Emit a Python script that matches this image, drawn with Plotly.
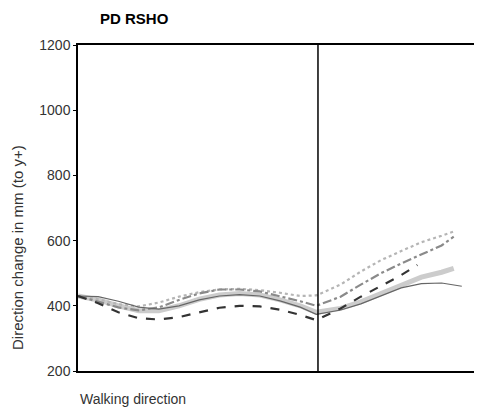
import plotly.graph_objects as go

# Gait-cycle position (% of walking direction)
x_pos = [0, 5, 10, 15, 20, 25, 30, 35, 40, 45, 50, 55, 59, 65, 70, 75, 80, 85, 90, 93]
x_pos_e = [0, 5, 10, 15, 20, 25, 30, 35, 40, 45, 50, 55, 59, 65, 70, 75, 80, 85, 90, 95]
x_pos_c = [0, 5, 10, 15, 20, 25, 30, 35, 40, 45, 50, 55, 59, 65, 70, 75, 80, 84]

dotted_vals = [430, 420, 405, 398, 410, 428, 442, 450, 452, 448, 440, 430, 432, 465, 505, 540, 568, 595, 615, 628]
dashdot_vals = [430, 412, 395, 386, 395, 418, 438, 450, 450, 444, 430, 414, 400, 428, 465, 500, 530, 558, 585, 612]
thick_vals = [430, 418, 400, 385, 385, 400, 420, 433, 438, 433, 418, 400, 380, 392, 412, 437, 465, 488, 503, 515]
thin_vals = [430, 428, 414, 396, 390, 400, 418, 430, 434, 430, 415, 396, 374, 387, 406, 430, 455, 468, 470, 460]
dark_vals = [430, 408, 380, 362, 358, 365, 380, 394, 400, 398, 388, 372, 356, 392, 428, 462, 494, 525]

y_ticks = [200, 400, 600, 800, 1000, 1200]
divider_x = 59.4

fig = go.Figure()
fig.add_trace(go.Scatter(x=x_pos, y=thick_vals, mode="lines",
                         line=dict(color="#cccccc", width=5), showlegend=False))
fig.add_trace(go.Scatter(x=x_pos, y=dotted_vals, mode="lines",
                         line=dict(color="#b5b5b5", width=2.2, dash="dot"), showlegend=False))
fig.add_trace(go.Scatter(x=x_pos, y=dashdot_vals, mode="lines",
                         line=dict(color="#8a8a8a", width=2.2, dash="dashdot"), showlegend=False))
fig.add_trace(go.Scatter(x=x_pos_e, y=thin_vals, mode="lines",
                         line=dict(color="#666666", width=1.2), showlegend=False))
fig.add_trace(go.Scatter(x=x_pos_c, y=dark_vals, mode="lines",
                         line=dict(color="#333333", width=2.2, dash="dash"), showlegend=False))

fig.add_shape(type="line", xref="x", yref="paper", x0=divider_x, x1=divider_x, y0=0, y1=1,
              line=dict(color="black", width=1.5))

fig.update_layout(
    width=474, height=402,
    margin=dict(l=70, r=0, t=37, b=39),
    paper_bgcolor="white", plot_bgcolor="white",
    font=dict(family="Liberation Sans, Arial, sans-serif", color="#222222", size=13),
    xaxis=dict(range=[0, 100], showgrid=False, zeroline=False, showticklabels=False,
               ticks="", showline=True, linecolor="black", linewidth=1.5, mirror=True),
    yaxis=dict(range=[200, 1200], tickvals=y_ticks, showgrid=False, zeroline=False,
               ticks="outside", ticklen=3, tickcolor="black", showline=True,
               linecolor="black", linewidth=1.5, tickfont=dict(size=14, color="#333333")),
    annotations=[
        dict(text="<b>PD RSHO</b>", xref="paper", yref="paper", x=(98 - 78) / 404, y=1 + 27 / 326,
             xanchor="left", yanchor="middle", showarrow=False,
             font=dict(size=15, color="black", family="Liberation Sans, Arial, sans-serif")),
        dict(text="Direction change in mm (to y+)", xref="paper", yref="paper",
             x=-61 / 404, y=(371 - 248) / 326, textangle=-90, xanchor="center", yanchor="middle",
             showarrow=False, font=dict(size=15, color="#333333")),
        dict(text="Walking direction", xref="paper", yref="paper", x=0, y=-28 / 326,
             xanchor="left", yanchor="middle", showarrow=False, font=dict(size=14, color="#333333")),
    ],
)

fig.write_html("out.html")
